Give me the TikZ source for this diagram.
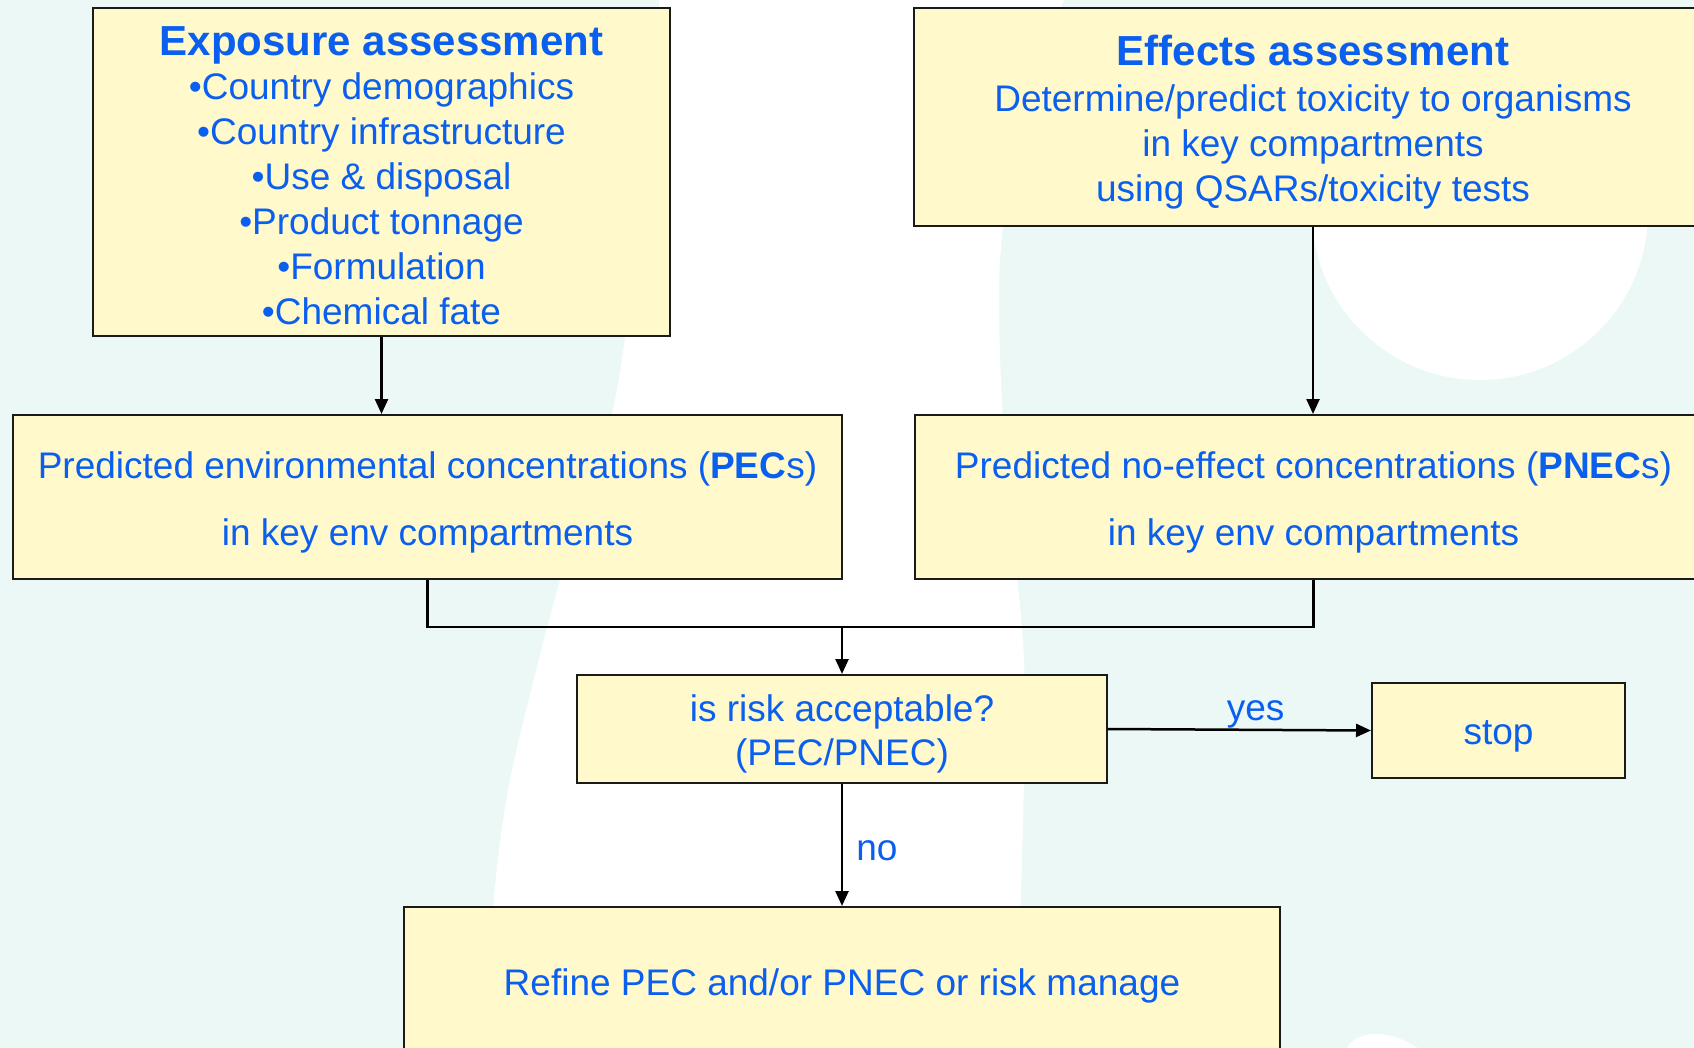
\documentclass[tikz,border=0pt]{standalone}
\usepackage{fontspec}
\setmainfont{Liberation Sans}
\usetikzlibrary{arrows.meta}
\definecolor{mint}{HTML}{ECF8F5}
\definecolor{boxfill}{HTML}{FFF9CC}
\definecolor{txtblue}{HTML}{0A5FEF}
\definecolor{edge}{HTML}{1A1A1A}
\tikzset{
  box/.style={draw=edge, line width=2pt, fill=boxfill, rectangle, inner sep=0pt},
  txt/.style={text=txtblue, align=center, inner sep=0pt, font=\fontsize{37}{45}\selectfont},
  conn/.style={draw=black, line width=2.5pt},
  arr/.style={conn, -{Triangle[length=15pt,width=13pt]}},
  lbl/.style={text=txtblue, font=\fontsize{37}{45}\selectfont, inner sep=2pt}
}
\begin{document}
\begin{tikzpicture}[x=1pt,y=-1pt]
\useasboundingbox (0,0) rectangle (1694,1048);
\clip (0,0) rectangle (1694,1048);
% background
\fill[mint] (0,0) rectangle (1694,1048);
\fill[white] plot[smooth] coordinates {(660,-5) (640,200) (615,400) (560,580) (510,780) (492,920) (488,1055)}
  -- plot[smooth] coordinates {(1015,1055) (1022,860) (1024,660) (1004,440) (1000,260) (1024,110) (1066,-5)} -- cycle;
\fill[white] (1480,212) circle (168);
\fill[white, rotate around={-30:(1395,1075)}] (1395,1075) ellipse (55 and 35);
% boxes
\node[box, minimum width=577pt, minimum height=328pt] (expo) at (381.5,172) {};
\node[box, minimum width=798pt, minimum height=218pt] (effects) at (1313,117) {};
\node[box, minimum width=829pt, minimum height=164pt] (pec) at (427.5,497) {};
\node[box, minimum width=797pt, minimum height=164pt] (pnec) at (1313.5,497) {};
\node[box, minimum width=530pt, minimum height=108pt] (risk) at (842,729) {};
\node[box, minimum width=253pt, minimum height=95pt] (stop) at (1498.5,730.5) {};
\node[box, minimum width=876pt, minimum height=148pt] (refine) at (842,981) {};
% texts
\node[txt] (expo-t) at ([yshift=-4pt]expo.center)
  {{\fontsize{42}{46}\selectfont\bfseries Exposure assessment}\\[-1pt]
   •Country demographics\\ •Country infrastructure\\ •Use \& disposal\\
   •Product tonnage\\ •Formulation\\ •Chemical fate};
\node[txt] (effects-t) at ([yshift=-5pt]effects.center)
  {{\fontsize{42}{46}\selectfont\bfseries Effects assessment}\\[1pt]
   Determine/predict toxicity to organisms\\ in key compartments\\ using QSARs/toxicity tests};
\node[txt, font=\fontsize{37}{67}\selectfont] (pec-t) at ([yshift=-5pt]pec.center)
  {Predicted environmental concentrations (\textbf{PEC}s)\\ in key env compartments};
\node[txt, font=\fontsize{37}{67}\selectfont] (pnec-t) at ([yshift=-5pt]pnec.center)
  {Predicted no-effect concentrations (\textbf{PNEC}s)\\ in key env compartments};
\node[txt, font=\fontsize{37}{44}\selectfont] (risk-t) at ([yshift=-5pt]risk.center)
  {is risk acceptable?\\ (PEC/PNEC)};
\node[txt] (stop-t) at ([yshift=-6pt]stop.center) {stop};
\node[txt] (refine-t) at ([yshift=-5pt]refine.center) {Refine PEC and/or PNEC or risk manage};
% connectors
\coordinate (j) at (842,627);
\draw[arr] (expo.south) -- (expo.south |- pec.north);
\draw[arr] (effects.south) -- (effects.south |- pnec.north);
\draw[conn] (pec.south) |- (j);
\draw[conn] (pnec.south) |- (j);
\draw[arr] (j) -- (risk.north);
\draw[arr] (risk.east) -- node[lbl, above, pos=0.55, yshift=-2pt, xshift=3pt] (yes) {yes} (stop.west);
\draw[arr] (risk.south) -- node[lbl, right, xshift=11pt, yshift=-6pt] (no) {no} (refine.north);
\end{tikzpicture}
\end{document}
